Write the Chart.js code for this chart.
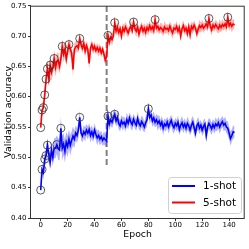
<!DOCTYPE html>
<html>
<head>
<meta charset="utf-8">
<script src="https://cdn.jsdelivr.net/npm/chart.js@4.4.1/dist/chart.umd.min.js"></script>
<style>
  html, body { margin: 0; padding: 0; background: #fff; }
</style>
</head>
<body>
<canvas id="chart-acc" width="249" height="249"></canvas>
<script>
"use strict";

var seriesNames = ['1-shot', '5-shot'];

// mean validation accuracy per epoch (0..144)
var oneShotMean = [
  0.446, 0.480, 0.475, 0.497, 0.503, 0.520, 0.505, 0.492, 0.512, 0.500,
  0.515, 0.515, 0.521, 0.514, 0.512, 0.548, 0.515, 0.522, 0.510, 0.525,
  0.518, 0.530, 0.520, 0.528, 0.535, 0.530, 0.540, 0.536, 0.545, 0.566,
  0.540, 0.535, 0.542, 0.538, 0.545, 0.540, 0.546, 0.536, 0.542, 0.535,
  0.545, 0.538, 0.532, 0.536, 0.530, 0.534, 0.528, 0.532, 0.529, 0.527,
  0.568, 0.555, 0.562, 0.558, 0.565, 0.571, 0.560, 0.566, 0.556, 0.552,
  0.560, 0.555, 0.558, 0.552, 0.562, 0.556, 0.565, 0.558, 0.554, 0.563,
  0.557, 0.553, 0.564, 0.556, 0.552, 0.559, 0.555, 0.550, 0.557, 0.562,
  0.580, 0.566, 0.570, 0.560, 0.565, 0.558, 0.562, 0.556, 0.560, 0.553,
  0.558, 0.548, 0.555, 0.552, 0.558, 0.550, 0.556, 0.561, 0.553, 0.549,
  0.556, 0.552, 0.558, 0.546, 0.553, 0.557, 0.550, 0.555, 0.548, 0.556,
  0.552, 0.545, 0.553, 0.558, 0.549, 0.540, 0.552, 0.556, 0.548, 0.553,
  0.545, 0.551, 0.555, 0.536, 0.550, 0.556, 0.552, 0.547, 0.554, 0.549,
  0.555, 0.552, 0.557, 0.550, 0.555, 0.559, 0.553, 0.556, 0.550, 0.548,
  0.540, 0.531, 0.536, 0.542, 0.541
];
var oneShotStd = [
  0.006, 0.010, 0.012, 0.011, 0.013, 0.012, 0.014, 0.013, 0.015, 0.014,
  0.016, 0.017, 0.015, 0.018, 0.017, 0.019, 0.020, 0.018, 0.019, 0.017,
  0.018, 0.016, 0.017, 0.015, 0.016, 0.014, 0.013, 0.012, 0.013, 0.011,
  0.012, 0.010, 0.011, 0.012, 0.010, 0.011, 0.010, 0.012, 0.011, 0.010,
  0.011, 0.010, 0.012, 0.010, 0.011, 0.010, 0.009, 0.011, 0.010, 0.011,
  0.010, 0.011, 0.009, 0.010, 0.011, 0.010, 0.009, 0.011, 0.010, 0.009,
  0.010, 0.011, 0.009, 0.010, 0.012, 0.010, 0.009, 0.011, 0.010, 0.009,
  0.010, 0.009, 0.011, 0.010, 0.009, 0.010, 0.011, 0.009, 0.010, 0.011,
  0.010, 0.011, 0.009, 0.010, 0.011, 0.009, 0.010, 0.012, 0.010, 0.009,
  0.010, 0.011, 0.009, 0.010, 0.009, 0.011, 0.010, 0.009, 0.011, 0.010,
  0.009, 0.010, 0.011, 0.009, 0.010, 0.011, 0.010, 0.009, 0.010, 0.011,
  0.010, 0.009, 0.011, 0.010, 0.012, 0.010, 0.009, 0.011, 0.010, 0.009,
  0.010, 0.011, 0.009, 0.012, 0.010, 0.009, 0.011, 0.010, 0.009, 0.010,
  0.011, 0.009, 0.010, 0.011, 0.010, 0.009, 0.010, 0.011, 0.010, 0.012,
  0.011, 0.012, 0.010, 0.011, 0.010
];
var fiveShotMean = [
  0.549, 0.578, 0.582, 0.603, 0.629, 0.646, 0.630, 0.652, 0.640, 0.648,
  0.663, 0.648, 0.658, 0.660, 0.650, 0.662, 0.683, 0.670, 0.678, 0.662,
  0.675, 0.686, 0.678, 0.672, 0.645, 0.678, 0.682, 0.684, 0.680, 0.696,
  0.686, 0.680, 0.688, 0.675, 0.684, 0.678, 0.655, 0.680, 0.686, 0.678,
  0.683, 0.676, 0.681, 0.675, 0.680, 0.672, 0.678, 0.670, 0.660, 0.666,
  0.701, 0.690, 0.698, 0.694, 0.700, 0.722, 0.708, 0.714, 0.706, 0.712,
  0.700, 0.713, 0.708, 0.715, 0.710, 0.705, 0.712, 0.716, 0.709, 0.723,
  0.712, 0.708, 0.715, 0.703, 0.711, 0.716, 0.708, 0.713, 0.706, 0.714,
  0.710, 0.717, 0.711, 0.715, 0.709, 0.727, 0.713, 0.716, 0.710, 0.714,
  0.712, 0.708, 0.715, 0.711, 0.713, 0.709, 0.716, 0.710, 0.705, 0.713,
  0.711, 0.716, 0.708, 0.714, 0.700, 0.712, 0.717, 0.709, 0.713, 0.704,
  0.715, 0.702, 0.716, 0.712, 0.718, 0.713, 0.704, 0.711, 0.717, 0.714,
  0.718, 0.713, 0.716, 0.720, 0.715, 0.729, 0.716, 0.710, 0.718, 0.714,
  0.719, 0.715, 0.712, 0.718, 0.714, 0.719, 0.716, 0.720, 0.715, 0.731,
  0.717, 0.721, 0.716, 0.720, 0.718
];
var fiveShotStd = [
  0.004, 0.010, 0.012, 0.012, 0.013, 0.014, 0.013, 0.015, 0.014, 0.013,
  0.014, 0.015, 0.013, 0.014, 0.012, 0.013, 0.012, 0.014, 0.011, 0.012,
  0.011, 0.010, 0.012, 0.011, 0.013, 0.010, 0.009, 0.010, 0.008, 0.009,
  0.008, 0.009, 0.008, 0.010, 0.008, 0.009, 0.010, 0.008, 0.007, 0.008,
  0.008, 0.007, 0.008, 0.009, 0.007, 0.008, 0.007, 0.008, 0.009, 0.008,
  0.008, 0.009, 0.008, 0.010, 0.008, 0.009, 0.008, 0.009, 0.010, 0.008,
  0.009, 0.008, 0.010, 0.008, 0.009, 0.008, 0.007, 0.009, 0.008, 0.009,
  0.008, 0.010, 0.008, 0.009, 0.007, 0.008, 0.009, 0.008, 0.010, 0.008,
  0.009, 0.008, 0.007, 0.009, 0.008, 0.010, 0.008, 0.009, 0.007, 0.008,
  0.009, 0.008, 0.010, 0.008, 0.007, 0.009, 0.008, 0.010, 0.009, 0.008,
  0.008, 0.009, 0.007, 0.008, 0.010, 0.008, 0.009, 0.008, 0.007, 0.009,
  0.008, 0.010, 0.008, 0.009, 0.008, 0.007, 0.009, 0.008, 0.010, 0.008,
  0.009, 0.008, 0.007, 0.009, 0.008, 0.010, 0.008, 0.009, 0.008, 0.007,
  0.008, 0.009, 0.008, 0.010, 0.008, 0.009, 0.007, 0.008, 0.009, 0.008,
  0.009, 0.008, 0.010, 0.008, 0.009
];

// epochs where a new best was reached (circled)
var oneShotBestEpochs = [0, 1, 3, 4, 5, 12, 15, 29, 50, 55, 80];
var fiveShotBestEpochs = [0, 1, 2, 3, 4, 5, 7, 10, 16, 21, 29, 50, 55, 69, 85, 125, 139];

// learning-rate change marker
var stepEpoch = 49;
var stepLine = [0.4875, 0.75];

var xTicks = [0, 20, 40, 60, 80, 100, 120, 140];
var yTicks = [0.40, 0.45, 0.50, 0.55, 0.60, 0.65, 0.70, 0.75];

var FONT = 'DejaVu Sans';

function toPoints(mean, shift, sign) {
  return mean.map(function(v, i) {
    return { x: i, y: shift ? v + sign * shift[i] : v };
  });
}

function bestPoints(mean, epochs) {
  return epochs.map(function(e) { return { x: e, y: mean[e] }; });
}

var legendItems = [
  { label: seriesNames[0], color: '#0000ff' },
  { label: seriesNames[1], color: '#ff0000' }
];

/** 枠線 + 凡例 */
var framePlugin = {
  id: 'frameLegend',
  afterDraw: function(c) {
    var ctx = c.ctx;
    var a = c.chartArea;
    ctx.save();
    ctx.strokeStyle = '#333';
    ctx.lineWidth = 1;
    ctx.strokeRect(a.left - 0.5, a.top + 0.5, a.right - a.left + 0.5, a.bottom - a.top);

    var bx = 168, by = 177, bw = 73, bh = 36;
    ctx.beginPath();
    ctx.roundRect(bx + 0.5, by + 0.5, bw, bh, 3);
    ctx.fillStyle = 'rgba(255,255,255,0.8)';
    ctx.fill();
    ctx.strokeStyle = '#d0d0d0';
    ctx.lineWidth = 1;
    ctx.stroke();

    ctx.font = '10.5px "' + FONT + '"';
    ctx.textBaseline = 'middle';
    ctx.textAlign = 'left';
    legendItems.forEach(function(item, i) {
      var y = 186 + i * 16.5;
      ctx.beginPath();
      ctx.moveTo(172, y);
      ctx.lineTo(195, y);
      ctx.strokeStyle = item.color;
      ctx.lineWidth = 2;
      ctx.stroke();
      ctx.fillStyle = '#000';
      ctx.fillText(item.label, 203, y + 0.5);
    });
    ctx.restore();
  }
};

var ctx = document.getElementById('chart-acc');

new Chart(ctx, {
  type: 'line',
  data: {
    datasets: [
      {
        label: 'step',
        data: [{ x: stepEpoch, y: stepLine[0] }, { x: stepEpoch, y: stepLine[1] }],
        borderColor: '#808080',
        borderWidth: 2,
        borderDash: [6, 3],
        pointRadius: 0,
        fill: false,
        order: 10
      },
      {
        label: 'band1',
        data: toPoints(oneShotMean, oneShotStd, 1),
        borderWidth: 0,
        pointRadius: 0,
        backgroundColor: 'rgba(0,0,255,0.3)',
        fill: '+1',
        order: 9
      },
      {
        label: 'band1lo',
        data: toPoints(oneShotMean, oneShotStd, -1),
        borderWidth: 0,
        pointRadius: 0,
        fill: false,
        order: 9
      },
      {
        label: seriesNames[0],
        data: toPoints(oneShotMean),
        borderColor: '#0000ff',
        borderWidth: 1.6,
        pointRadius: 0,
        fill: false,
        order: 7
      },
      {
        label: 'band5',
        data: toPoints(fiveShotMean, fiveShotStd, 1),
        borderWidth: 0,
        pointRadius: 0,
        backgroundColor: 'rgba(255,0,0,0.3)',
        fill: '+1',
        order: 6
      },
      {
        label: 'band5lo',
        data: toPoints(fiveShotMean, fiveShotStd, -1),
        borderWidth: 0,
        pointRadius: 0,
        fill: false,
        order: 6
      },
      {
        label: seriesNames[1],
        data: toPoints(fiveShotMean),
        borderColor: '#ff0000',
        borderWidth: 1.6,
        pointRadius: 0,
        fill: false,
        order: 4
      },
      {
        label: 'best1',
        data: bestPoints(oneShotMean, oneShotBestEpochs),
        showLine: false,
        pointRadius: 4,
        pointBorderColor: '#333',
        pointBorderWidth: 0.8,
        pointBackgroundColor: 'rgba(0,0,0,0)',
        order: 2
      },
      {
        label: 'best5',
        data: bestPoints(fiveShotMean, fiveShotBestEpochs),
        showLine: false,
        pointRadius: 4,
        pointBorderColor: '#333',
        pointBorderWidth: 0.8,
        pointBackgroundColor: 'rgba(0,0,0,0)',
        order: 1
      }
    ]
  },
  options: {
    responsive: false,
    animation: false,
    layout: { padding: { top: 2, right: 3, left: 0, bottom: 0 } },
    elements: { line: { tension: 0 } },
    plugins: {
      legend: { display: false },
      tooltip: { enabled: false }
    },
    scales: {
      x: {
        type: 'linear',
        min: -7.2,
        max: 151.2,
        afterBuildTicks: function(s) { s.ticks = xTicks.map(function(v) { return { value: v }; }); },
        afterFit: function(s) { s.height = 31; },
        border: { display: false },
        grid: { drawOnChartArea: false, drawTicks: true, tickLength: 3, color: '#333' },
        ticks: { color: '#000', padding: 0, maxRotation: 0, font: { family: FONT, size: 7 } },
        title: { display: true, text: 'Epoch', color: '#000', padding: { top: 9, bottom: 9 }, font: { family: FONT, size: 9.3 } }
      },
      y: {
        min: 0.40,
        max: 0.75,
        afterBuildTicks: function(s) { s.ticks = yTicks.map(function(v) { return { value: v }; }); },
        afterFit: function(s) { s.width = 31; },
        border: { display: false },
        grid: { drawOnChartArea: false, drawTicks: true, tickLength: 3, color: '#333' },
        ticks: {
          color: '#000',
          padding: 1.5,
          font: { family: FONT, size: 7 },
          callback: function(v) { return v.toFixed(2); }
        },
        title: { display: true, text: 'Validation accuracy', color: '#000', padding: 3, font: { family: FONT, size: 9.4 } }
      }
    }
  },
  plugins: [framePlugin]
});
</script>
</body>
</html>
